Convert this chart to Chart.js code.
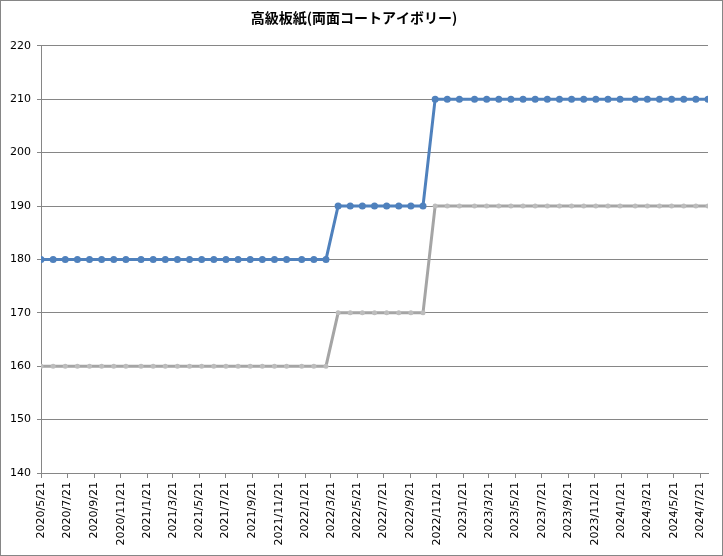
<!DOCTYPE html>
<html>
<head>
<meta charset="utf-8">
<script src="https://cdn.jsdelivr.net/npm/chart.js@4"></script>
<style>
  html, body { margin: 0; padding: 0; background: #ffffff; }
  #c { display: block; }
</style>
</head>
<body>
<canvas id="c" width="723" height="556"></canvas>
<script>
const chartTitle = '高級板紙(両面コートアイボリー)';

const pointDates = [
  '2020/5/21','2020/6/18','2020/7/16','2020/8/13','2020/9/10','2020/10/8','2020/11/5','2020/12/3',
  '2021/1/7','2021/2/4','2021/3/4','2021/4/1','2021/4/29','2021/5/27','2021/6/24','2021/7/22',
  '2021/8/19','2021/9/16','2021/10/14','2021/11/11','2021/12/9',
  '2022/1/13','2022/2/10','2022/3/10','2022/4/7','2022/5/5','2022/6/2','2022/6/30','2022/7/28',
  '2022/8/25','2022/9/22','2022/10/20','2022/11/17','2022/12/15',
  '2023/1/12','2023/2/16','2023/3/16','2023/4/13','2023/5/11','2023/6/8','2023/7/6','2023/8/3',
  '2023/8/31','2023/9/28','2023/10/26','2023/11/23','2023/12/21',
  '2024/1/18','2024/2/22','2024/3/21','2024/4/18','2024/5/16','2024/6/13','2024/7/11','2024/8/8'
];

const upperSeries = [
  180,180,180,180,180,180,180,180,180,180,180,180,180,180,180,180,180,180,180,180,180,180,180,180,
  190,190,190,190,190,190,190,190,
  210,210,210,210,210,210,210,210,210,210,210,210,210,210,210,210,210,210,210,210,210,210,210
];

const lowerSeries = [
  160,160,160,160,160,160,160,160,160,160,160,160,160,160,160,160,160,160,160,160,160,160,160,160,
  170,170,170,170,170,170,170,170,
  190,190,190,190,190,190,190,190,190,190,190,190,190,190,190,190,190,190,190,190,190,190,190
];

const xTickLabels = [
  '2020/5/21','2020/7/21','2020/9/21','2020/11/21','2021/1/21','2021/3/21','2021/5/21','2021/7/21',
  '2021/9/21','2021/11/21','2022/1/21','2022/3/21','2022/5/21','2022/7/21','2022/9/21','2022/11/21',
  '2023/1/21','2023/3/21','2023/5/21','2023/7/21','2023/9/21','2023/11/21','2024/1/21','2024/3/21',
  '2024/5/21','2024/7/21'
];

const yTickValues = [140,150,160,170,180,190,200,210,220];

function toDay(s) {
  const p = s.split('/').map(Number);
  return Date.UTC(p[0], p[1] - 1, p[2]) / 86400000;
}

const xDays = pointDates.map(toDay);
const tickDayMap = new Map(xTickLabels.map(l => [toDay(l), l]));

const borderPlugin = {
  id: 'outerBorder',
  afterDraw(chart) {
    const ctx = chart.ctx;
    ctx.save();
    ctx.strokeStyle = '#868686';
    ctx.lineWidth = 1;
    ctx.strokeRect(0.5, 0.5, chart.width - 1, chart.height - 1);
    ctx.restore();
  }
};

const FONT = '"DejaVu Sans", "Noto Sans CJK JP", sans-serif';

new Chart(document.getElementById('c'), {
  type: 'line',
  data: {
    datasets: [
      {
        label: 'upper',
        data: xDays.map((x, i) => ({ x: x, y: upperSeries[i] })),
        borderColor: '#4F81BD',
        backgroundColor: '#4F81BD',
        borderWidth: 3,
        pointRadius: 3.5,
        pointBorderWidth: 0,
        pointBackgroundColor: '#4F81BD',
        tension: 0
      },
      {
        label: 'lower',
        data: xDays.map((x, i) => ({ x: x, y: lowerSeries[i] })),
        borderColor: '#A5A5A5',
        backgroundColor: '#A5A5A5',
        borderWidth: 3,
        pointRadius: 2.5,
        pointBorderWidth: 0,
        pointBackgroundColor: '#BDBDBD',
        tension: 0
      }
    ]
  },
  options: {
    responsive: false,
    animation: false,
    devicePixelRatio: 1,
    layout: { padding: { left: 0, right: 15, top: 0, bottom: 0 } },
    plugins: {
      legend: { display: false },
      tooltip: { enabled: false },
      title: {
        display: true,
        text: chartTitle,
        color: '#000000',
        font: { family: '"Noto Sans CJK JP", sans-serif', size: 14, weight: 'bold' },
        padding: { top: 9, bottom: 20 }
      }
    },
    scales: {
      x: {
        type: 'linear',
        min: xDays[0],
        max: xDays[xDays.length - 1],
        afterBuildTicks(scale) {
          scale.ticks = xTickLabels.map(l => ({ value: toDay(l) }));
        },
        afterFit(scale) { scale.height = 83; },
        ticks: {
          autoSkip: false,
          minRotation: 90,
          maxRotation: 90,
          color: '#000000',
          font: { family: FONT, size: 11 },
          padding: 4,
          callback: (v) => tickDayMap.get(v) || ''
        },
        grid: {
          drawOnChartArea: false,
          drawTicks: true,
          tickLength: 5,
          color: '#868686'
        },
        border: { color: '#868686', width: 1 }
      },
      y: {
        min: 140,
        max: 220,
        afterBuildTicks(scale) {
          scale.ticks = yTickValues.map(v => ({ value: v }));
        },
        afterFit(scale) { scale.width = 41; },
        ticks: {
          color: '#000000',
          font: { family: FONT, size: 11 },
          padding: 6
        },
        grid: {
          color: '#868686',
          tickLength: 4
        },
        border: { color: '#868686', width: 1 }
      }
    }
  },
  plugins: [borderPlugin]
});
</script>
</body>
</html>
